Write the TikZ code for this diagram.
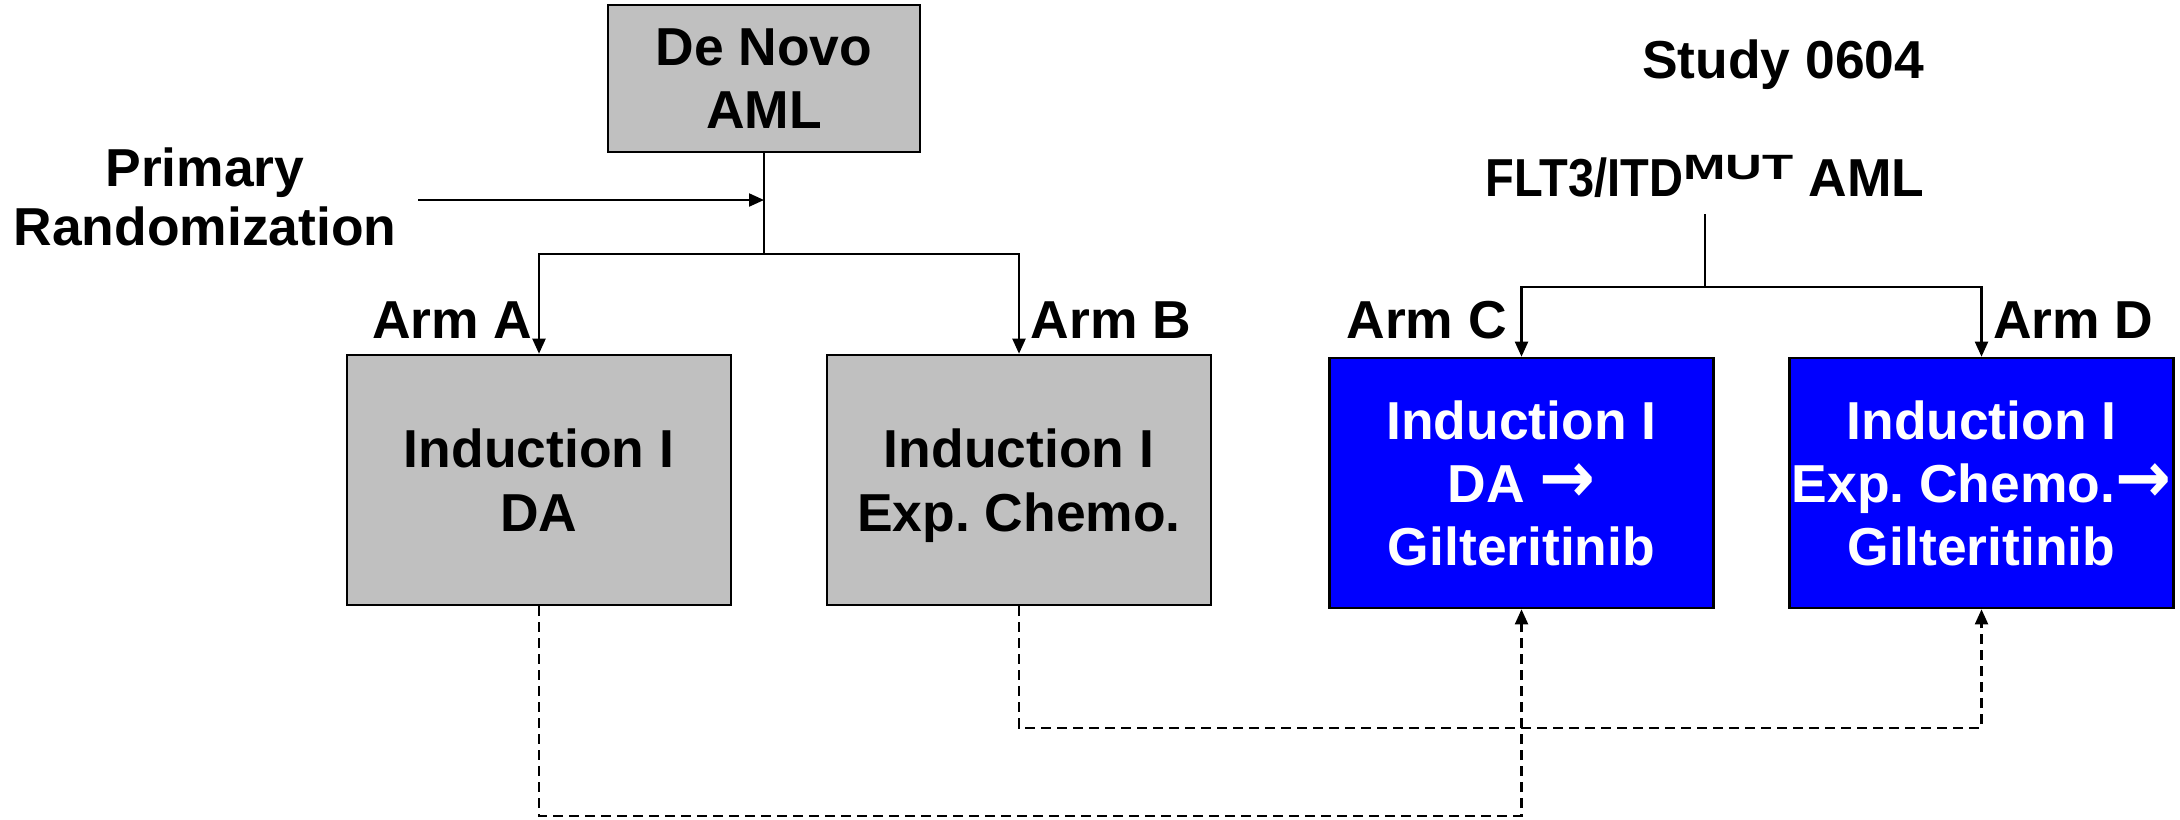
\documentclass[tikz,border=0pt]{standalone}
\usepackage{fontspec}
\usepackage{graphicx}
\setmainfont{Liberation Sans}
\newfontfamily\arrowfont{DejaVu Sans}
\usetikzlibrary{arrows.meta,positioning}
\definecolor{boxgray}{RGB}{192,192,192}
\definecolor{armblue}{RGB}{0,0,255}
\newcommand{\thenarrow}{{\arrowfont\bfseries\scalebox{1.25}[1.35]{→}}}
\frenchspacing

\begin{document}
\begin{tikzpicture}[
    txt/.style={font=\bfseries\fontsize{15.2}{18}\selectfont, align=center},
    lbl/.style={txt, inner sep=0pt},
    greybox/.style={txt, draw, line width=0.75pt, fill=boxgray, inner sep=0pt,
      text depth=0pt, minimum width=3.84cm, minimum height=2.5cm},
    bluebox/.style={greybox, fill=armblue, text=white},
    arr/.style={-{Triangle[length=0.15cm,width=0.13cm]}, line width=0.6pt},
    link/.style={arr, dash pattern=on 0.1cm off 0.06cm}
  ]
  \useasboundingbox (0,0) rectangle (21.8,-8.19);

  % left study: randomised arms
  \node[greybox, minimum width=3.12cm, minimum height=1.47cm] (denovo) at (7.64,-0.785) {De Novo\\AML};
  \node[txt, font=\bfseries\fontsize{15.2}{16.8}\selectfont] (randlbl) at (2.05,-1.97) {Primary\\Randomization};
  \node[greybox] (indA) at (5.39,-4.80) {Induction I\\DA};
  \node[greybox] (indB) at (10.19,-4.80) {Induction I\\Exp. Chemo.};

  % right study: FLT3 arms
  \node[lbl, anchor=base east] (study) at (19.25,-0.78) {Study 0604};
  \node[lbl, anchor=base east, outer ysep=0.17cm] (flt3) at (19.25,-1.96)
    {\scalebox{0.88}[1]{FLT3/ITD}\raisebox{0.3em}{\fontsize{10}{12}\selectfont\scalebox{1.45}[1]{MUT}} AML};
  \node[bluebox] (indC) at (15.215,-4.83) {Induction I\\DA \thenarrow\\Gilteritinib};
  \node[bluebox] (indD) at (19.815,-4.83) {Induction I\\Exp. Chemo.\thenarrow\\Gilteritinib};

  % arm labels
  \node[lbl, anchor=base east] (lblA) at ([xshift=-0.06cm, yshift=0.15cm]indA.north) {Arm A};
  \node[lbl, anchor=base west] (lblB) at ([xshift=0.11cm, yshift=0.15cm]indB.north) {Arm B};
  \node[lbl, anchor=base east] (lblC) at ([xshift=-0.14cm, yshift=0.18cm]indC.north) {Arm C};
  \node[lbl, anchor=base west] (lblD) at ([xshift=0.11cm, yshift=0.18cm]indD.north) {Arm D};

  % branching
  \coordinate (randin) at (4.18,-2.0);
  \coordinate (splitL) at (denovo.south |- 0,-2.54);
  \coordinate (splitR) at (flt3.south |- 0,-2.87);
  \draw[arr] (randin) -- (randin -| denovo.south);
  \draw[line width=0.6pt] (denovo.south) -- (splitL);
  \draw[arr] (splitL) -| (indA.north);
  \draw[arr] (splitL) -| (indB.north);
  \draw[line width=0.6pt] (flt3.south) -- (splitR);
  \draw[arr] (splitR) -| (indC.north);
  \draw[arr] (splitR) -| (indD.north);

  % dashed links
  \coordinate (lowAC) at (0,-8.16);
  \coordinate (lowBD) at (0,-7.28);
  \draw[link] (indA.south) -- (indA.south |- lowAC) -| (indC.south);
  \draw[link] (indB.south) -- (indB.south |- lowBD) -| (indD.south);
\end{tikzpicture}
\end{document}
